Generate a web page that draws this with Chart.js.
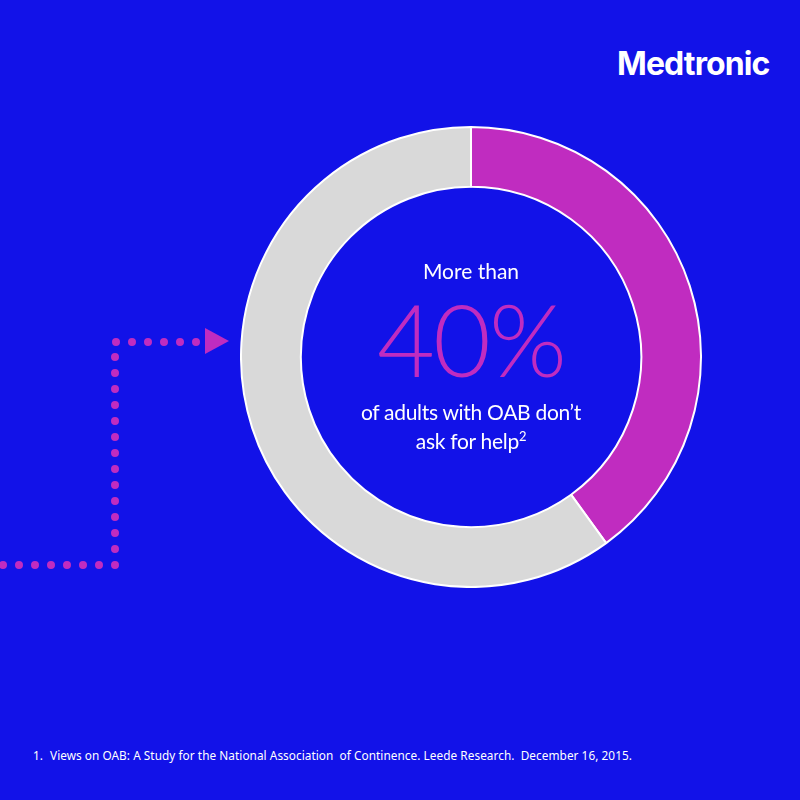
<!DOCTYPE html>
<html>
<head>
<meta charset="utf-8">
<script src="https://cdn.jsdelivr.net/npm/chart.js@4.4.0/dist/chart.umd.min.js"></script>
<style>
  html,body{margin:0;padding:0;}
  body{width:800px;height:800px;background:#1212E8;position:relative;overflow:hidden;font-family:Lato,"Noto Sans",sans-serif;}
  #wrap{position:absolute;left:240px;top:126px;width:462px;height:462px;}
  .t{position:absolute;color:#fff;text-align:center;width:300px;left:321px;}
  #logo{position:absolute;left:617px;top:44px;color:#fff;font-family:Inter,"Noto Sans",sans-serif;font-weight:700;font-size:32px;letter-spacing:-0.9px;}
  #foot{position:absolute;left:33px;top:747px;color:#fff;font-family:"Noto Sans",sans-serif;font-size:11.8px;}
  #foot span{position:absolute;left:17px;white-space:nowrap;top:0;letter-spacing:0.05px;}
  svg{position:absolute;left:0;top:0;}
</style>
</head>
<body>
<div id="logo">Medtronic</div>
<svg width="800" height="800">
  <g fill="#C02CC0">
    <path d="M115 565 L115 342 L210 342" stroke="#C02CC0" stroke-width="8" stroke-linecap="round" stroke-dasharray="0 16" fill="none"/>
    <path d="M205 328 L229 341 L205 354 Z"/>
  </g>
  <path d="M3 565 L112 565" stroke="#C02CC0" stroke-width="8" stroke-linecap="round" stroke-dasharray="0 16" fill="none"/>
</svg>
<div id="wrap"><canvas id="c"></canvas></div>
<div class="t" style="top:258px;font-size:21px;font-weight:400;">More than</div>
<div class="t" style="top:283px;font-size:100px;font-weight:300;color:#C02CC0;line-height:110px;letter-spacing:-2px;">40%</div>
<div class="t" style="top:397px;font-size:21px;font-weight:400;line-height:29px;letter-spacing:-0.3px;">of adults with OAB don’t<br>ask for help<sup style="font-size:13px;vertical-align:8px;line-height:0">2</sup></div>
<div id="foot">1.<span>Views on OAB: A Study for the National Association&nbsp; of Continence. Leede Research.&nbsp; December 16, 2015.</span></div>
<script>
const categories = ["Don't ask for help", "Others"];
const values = [40, 60];
const colors = ["#C02CC0", "#D9D9D9"];

new Chart(document.getElementById('c'), {
  type: 'doughnut',
  data: {
    labels: categories,
    datasets: [{
      data: values,
      backgroundColor: colors,
      borderColor: '#FFFFFF',
      borderWidth: 2
    }]
  },
  options: {
    responsive: true,
    maintainAspectRatio: false,
    animation: false,
    cutout: '74%',
    layout: { padding: 0 },
    plugins: { legend: { display: false }, tooltip: { enabled: false } }
  }
});
</script>
</body>
</html>
